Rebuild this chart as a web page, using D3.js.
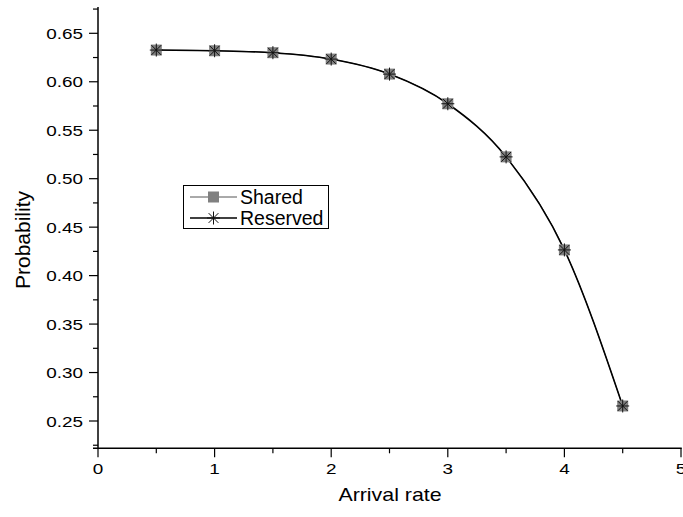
<!DOCTYPE html>
<html><head><meta charset="utf-8">
<script src="https://cdn.jsdelivr.net/npm/d3@7"></script>
<style>body{margin:0;background:#fff}svg{display:block}text{font-family:"Liberation Sans",Arial,sans-serif;fill:#000}</style>
</head><body>
<svg id="c" width="683" height="517"></svg>
<script>
const arrivalRate = [0.5, 1.0, 1.5, 2.0, 2.5, 3.0, 3.5, 4.0, 4.5];
const shared   = [0.6327, 0.6320, 0.6300, 0.6234, 0.6079, 0.5773, 0.5225, 0.4265, 0.2655];
const reserved = [0.6327, 0.6320, 0.6300, 0.6234, 0.6079, 0.5773, 0.5225, 0.4265, 0.2655];
const seriesNames = ["Shared", "Reserved"];
const xTicks = [0, 1, 2, 3, 4, 5];
const yTicks = [0.25, 0.30, 0.35, 0.40, 0.45, 0.50, 0.55, 0.60, 0.65];

const svg = d3.select("#c");
const x = d3.scaleLinear().domain([0, 5]).range([98, 681]);
const y = d3.scaleLinear().domain([0.25, 0.65]).range([421, 33.3]);
const yBottom = 448.3, yTop = 7;
const stretch = 1.22;

// axes lines
svg.append("line").attr("x1", x(0)).attr("x2", x(0)).attr("y1", yTop).attr("y2", yBottom + 0.5)
  .attr("stroke", "#000").attr("stroke-width", 1.5);
svg.append("line").attr("x1", 93).attr("x2", x(5) + 0.75).attr("y1", yBottom).attr("y2", yBottom)
  .attr("stroke", "#000").attr("stroke-width", 1.5);

// y ticks
const yMinor = d3.range(0.225, 0.676, 0.05).filter(v => y(v) < yBottom && y(v) > yTop);
svg.selectAll(".ymaj").data(yTicks).enter().append("line")
  .attr("x1", x(0) - 9).attr("x2", x(0)).attr("y1", d => y(d)).attr("y2", d => y(d))
  .attr("stroke", "#000").attr("stroke-width", 1.2);
svg.selectAll(".ymin").data(yMinor).enter().append("line")
  .attr("x1", x(0) - 5).attr("x2", x(0)).attr("y1", d => y(d)).attr("y2", d => y(d))
  .attr("stroke", "#000").attr("stroke-width", 1.2);
svg.selectAll(".ylab").data(yTicks).enter().append("text")
  .attr("transform", d => `translate(83,${y(d)}) scale(${stretch},1)`)
  .attr("dy", "0.36em").attr("text-anchor", "end")
  .attr("font-size", 15.5).text(d => d.toFixed(2));

// x ticks
const xMinor = d3.range(0.5, 5, 1);
svg.selectAll(".xmaj").data(xTicks).enter().append("line")
  .attr("x1", d => x(d)).attr("x2", d => x(d)).attr("y1", yBottom).attr("y2", yBottom + 9)
  .attr("stroke", "#000").attr("stroke-width", 1.2);
svg.selectAll(".xmin").data(xMinor).enter().append("line")
  .attr("x1", d => x(d)).attr("x2", d => x(d)).attr("y1", yBottom).attr("y2", yBottom + 5)
  .attr("stroke", "#000").attr("stroke-width", 1.2);
svg.selectAll(".xlab").data(xTicks).enter().append("text")
  .attr("transform", d => `translate(${x(d)},474) scale(${stretch},1)`)
  .attr("text-anchor", "middle")
  .attr("font-size", 15.5).text(d => d);

// titles
svg.append("text").attr("transform", `translate(390,501) scale(${stretch},1)`).attr("text-anchor", "middle")
  .attr("font-size", 17.5).text("Arrival rate");
svg.append("text").attr("transform", "translate(30,240) rotate(-90)").attr("text-anchor", "middle")
  .attr("font-size", 21).text("Probability");

// lines
const line = d3.line().x(d => x(d[0])).y(d => y(d[1])).curve(d3.curveMonotoneX);
const sData = arrivalRate.map((v, i) => [v, shared[i]]);
const rData = arrivalRate.map((v, i) => [v, reserved[i]]);
svg.append("path").attr("d", line(sData)).attr("fill", "none").attr("stroke", "#555").attr("stroke-width", 1);
svg.append("path").attr("d", line(rData)).attr("fill", "none").attr("stroke", "#000").attr("stroke-width", 1.6);

function square(g, cx, cy) {
  g.append("rect").attr("x", cx - 5.5).attr("y", cy - 5.5).attr("width", 11).attr("height", 11).attr("fill", "#808080");
}
function star(g, cx, cy, r) {
  const p = `M${cx - r},${cy}H${cx + r}M${cx},${cy - r}V${cy + r}` +
    `M${cx - r * 0.75},${cy - r * 0.75}L${cx + r * 0.75},${cy + r * 0.75}` +
    `M${cx - r * 0.75},${cy + r * 0.75}L${cx + r * 0.75},${cy - r * 0.75}`;
  g.append("path").attr("d", p).attr("stroke", "#111").attr("stroke-width", 1).attr("fill", "none");
}
const mk = svg.append("g");
sData.forEach(d => square(mk, x(d[0]), y(d[1])));
rData.forEach(d => star(mk, x(d[0]), y(d[1]), 6.5));

// legend
const lg = svg.append("g");
lg.append("rect").attr("x", 183.5).attr("y", 185.5).attr("width", 145).attr("height", 43)
  .attr("fill", "#fff").attr("stroke", "#000").attr("stroke-width", 1);
const rows = [197, 218];
lg.append("line").attr("x1", 190).attr("x2", 237).attr("y1", rows[0]).attr("y2", rows[0]).attr("stroke", "#555").attr("stroke-width", 1);
square(lg, 213.5, rows[0]);
lg.append("line").attr("x1", 190).attr("x2", 237).attr("y1", rows[1]).attr("y2", rows[1]).attr("stroke", "#000").attr("stroke-width", 1.6);
star(lg, 213.5, rows[1], 6.5);
lg.selectAll(".lt").data(seriesNames).enter().append("text")
  .attr("x", 240).attr("y", (d, i) => rows[i]).attr("dy", "0.36em").attr("font-size", 19.5).text(d => d);
</script>
</body></html>
